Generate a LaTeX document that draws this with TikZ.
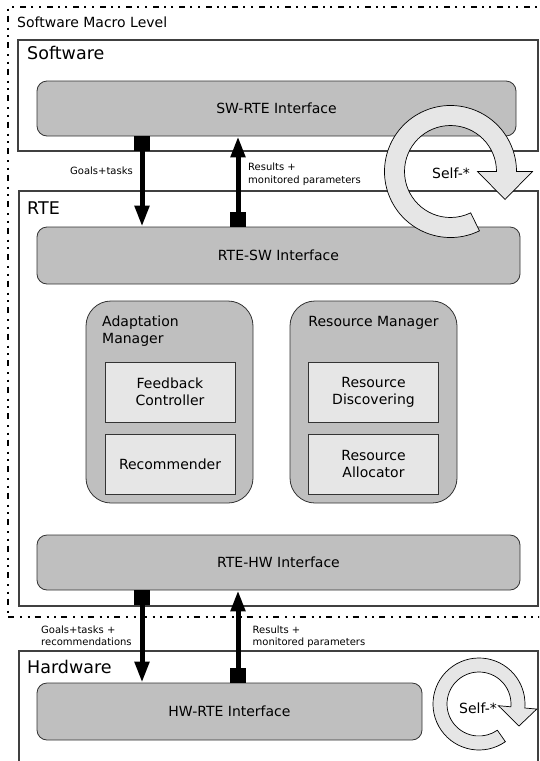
\documentclass[tikz,border=0pt]{standalone}
\usepackage{fontspec}
\setmainfont{DejaVu Sans}
\usetikzlibrary{arrows.meta,calc}
\definecolor{ifacegray}{HTML}{BFBFBF}
\definecolor{lightfill}{HTML}{E6E6E6}
\definecolor{edgegray}{HTML}{333333}
\begin{document}
\begin{tikzpicture}[x=1pt,y=-1pt,
  macro/.style={draw=black,line width=2pt,
    dash pattern=on 6pt off 6pt on 2pt off 5.5pt on 2pt off 5pt},
  layer/.style={draw=black!75,line width=1.1pt,fill=white,inner sep=0pt},
  iface/.style={draw=edgegray,line width=0.8pt,fill=ifacegray,rounded corners=10pt,
    inner sep=0pt,font=\fontsize{14}{17}\selectfont},
  manager/.style={draw=edgegray,line width=0.8pt,fill=ifacegray,rounded corners=25pt,
    inner sep=0pt,minimum width=167pt,minimum height=202pt},
  unit/.style={draw=edgegray,line width=0.8pt,fill=lightfill,inner sep=0pt,align=center,
    minimum width=130pt,minimum height=60pt,font=\fontsize{14}{17}\selectfont},
  title/.style={anchor=base west,inner sep=0pt,font=\fontsize{17.5}{21}\selectfont},
  subtitle/.style={inner sep=0pt,font=\fontsize{14}{17}\selectfont},
  flowlabel/.style={anchor=north west,inner sep=0pt,align=left,
    font=\fontsize{10}{12.5}\selectfont},
  flow/.style={line width=5pt,
    {Square[length=15pt,width=16pt]}-{Triangle[length=21pt,width=14pt]}},
  selfloop/.style={draw=black,line width=0.7pt,fill=lightfill,line join=miter},
  selftext/.style={inner sep=0pt,font=\fontsize{14}{17}\selectfont}
]
\useasboundingbox (0,0) rectangle (539,761);
\clip (0,0) rectangle (539,761);

% software macro level frame
\node[macro,minimum width=552pt,minimum height=610pt,inner sep=0pt] (macro) at (284,312) {};
\node[anchor=base west,inner sep=0pt,font=\fontsize{14}{17}\selectfont] (macrot) at (17,27) {Software Macro Level};

% layers
\node[layer,minimum width=520pt,minimum height=111pt] (sw) at (278,95.5) {};
\node[title] (swt) at (27,59.4) {Software};
\node[layer,minimum width=519pt,minimum height=415pt] (rte) at (278.5,398.5) {};
\node[title] (rtet) at (27,214.4) {RTE};
\node[layer,minimum width=519pt,minimum height=139pt] (hw) at (278.5,720.5) {};
\node[title] (hwt) at (27,673.4) {Hardware};

% interfaces
\node[iface,minimum width=479pt,minimum height=55pt] (swrte) at (276.5,108.5) {SW-RTE Interface};
\node[iface,minimum width=483pt,minimum height=57pt] (rtesw) at (278.5,255.5) {RTE-SW Interface};
\node[iface,minimum width=483pt,minimum height=55pt] (rtehw) at (278.5,562.5) {RTE-HW Interface};
\node[iface,minimum width=385pt,minimum height=57pt] (hwrte) at (229.5,711.5) {HW-RTE Interface};

% managers
\node[manager] (am) at (169.5,402) {};
\node[subtitle,anchor=north west,align=left] (amt) at (102,316) {Adaptation\\Manager};
\node[unit] (fc) at (170,392) {Feedback\\Controller};
\node[unit] (rec) at (170,464) {Recommender};

\node[manager] (rm) at (373.5,402) {};
\node[subtitle,anchor=north] (rmt) at (373.5,316) {Resource Manager};
\node[unit] (rd) at (373.5,392) {Resource\\Discovering};
\node[unit] (ra) at (373.5,464) {Resource\\Allocator};

% data flows
\coordinate (colL) at (142,0);
\coordinate (colR) at (238,0);
\draw[flow] (colL |- swrte.south) -- (colL |- rtesw.north);
\draw[flow] (colR |- rtesw.north) -- (colR |- swrte.south);
\draw[flow] (colL |- rtehw.south) -- (colL |- hwrte.north);
\draw[flow] (colR |- hwrte.north) -- (colR |- rtehw.south);

\node[flowlabel] (g1) at (70,166.3) {Goals+tasks};
\node[flowlabel] (r1) at (248,163) {Results +\\monitored parameters};
\node[flowlabel] (g2) at (41,625.5) {Goals+tasks +\\recommendations};
\node[flowlabel] (r2) at (252.5,625.5) {Results +\\monitored parameters};

% self-* loops
\coordinate (bigc) at (450.5,171.5);
\draw[selfloop] ($(bigc)+(64:66)$) arc[start angle=64,end angle=360,radius=66]
  -- ($(bigc)+(0:82)$) -- ($(bigc)+(54.5,28)$) -- ($(bigc)+(0:27)$)
  -- ($(bigc)+(0:46)$) arc[start angle=360,end angle=64,radius=46] -- cycle;
\node[selftext] (bigself) at (451,173) {Self-*};

\coordinate (smallc) at (479,704);
\draw[selfloop] ($(smallc)+(55:46)$) arc[start angle=55,end angle=365,radius=46]
  -- ($(smallc)+(5:58)$) -- ($(smallc)+(40,22)$) -- ($(smallc)+(5:19.5)$)
  -- ($(smallc)+(5:32)$) arc[start angle=365,end angle=55,radius=32] -- cycle;
\node[selftext] (smallself) at (478,708) {Self-*};
\end{tikzpicture}
\end{document}
